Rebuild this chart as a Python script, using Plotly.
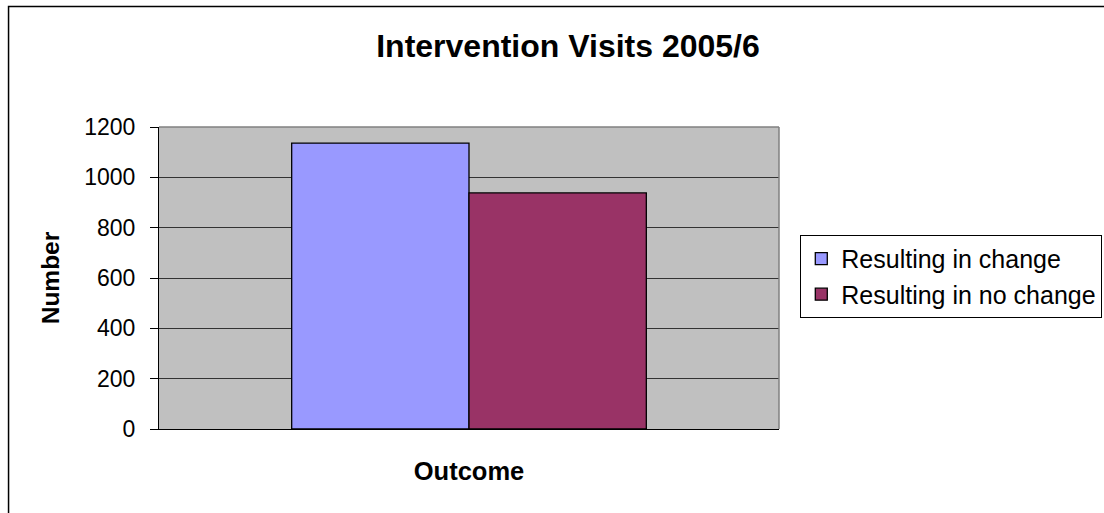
import plotly.graph_objects as go

# Intervention visit outcomes, 2005/6
categories = [""]
series_names = ["Resulting in change", "Resulting in no change"]
series_values = [[1136], [938]]
series_colors = ["#9999FF", "#993366"]
y_ticks = [0, 200, 400, 600, 800, 1000, 1200]

W, H = 1104, 513
L, R, T, B = 158.5, 1104 - 778.7, 127, 513 - 429.3
pw, ph = W - L - R, H - T - B

fig = go.Figure()
for name, vals, col in zip(series_names, series_values, series_colors):
    fig.add_trace(go.Bar(
        x=categories, y=vals, name=name,
        marker=dict(color=col, line=dict(color="#000000", width=1.3)),
    ))

def px_x(p):
    return (p - L) / pw

def px_y(p):
    return (H - B - p) / ph

fig.update_layout(
    width=W, height=H,
    margin=dict(l=L, r=R, t=T, b=B, autoexpand=False),
    paper_bgcolor="white",
    plot_bgcolor="#C0C0C0",
    barmode="group",
    bargap=0.428,
    bargroupgap=0,
    font=dict(family="Liberation Sans, Arial, sans-serif", size=23, color="#000000"),
    title=dict(
        text="<b>Intervention Visits 2005/6</b>",
        font=dict(size=32),
        x=568 / W, xref="container", xanchor="center",
        y=1 - 46 / H, yanchor="middle",
    ),
    xaxis=dict(
        showticklabels=False, ticks="",
        showline=True, linecolor="#000000", linewidth=1,
        title=dict(text="<b>Outcome</b>", font=dict(size=25.5), standoff=33),
        mirror=False,
    ),
    yaxis=dict(
        range=[0, 1200], tickvals=y_ticks, ticktext=[str(v) for v in y_ticks],
        ticks="outside", ticklen=8, tickcolor="#000000",
        ticklabelstandoff=10,
        showline=True, linecolor="#000000", linewidth=1,
        showgrid=True, gridcolor="#333333", gridwidth=1,
        zeroline=False,
        tickfont=dict(size=23),
        title=dict(text="<b>Number</b>", font=dict(size=24.5), standoff=17),
    ),
    legend=dict(
        x=px_x(800), xanchor="left",
        y=px_y(235), yanchor="top",
        bordercolor="#000000", borderwidth=1,
        bgcolor="white",
        font=dict(size=25),
        tracegroupgap=0,
    ),
    showlegend=True,
    shapes=[
        # plot area border on top and right
        dict(type="line", xref="paper", yref="paper", x0=0, x1=1, y0=1, y1=1,
             line=dict(color="#808080", width=1.5)),
        dict(type="line", xref="paper", yref="paper", x0=1, x1=1, y0=0, y1=1,
             line=dict(color="#808080", width=1.5)),
        # chart frame
        dict(type="rect", xref="paper", yref="paper",
             x0=px_x(8), x1=px_x(1110), y0=px_y(520), y1=px_y(6.5),
             line=dict(color="#000000", width=1.5), layer="below"),
    ],
)

fig.write_html("out.html")
